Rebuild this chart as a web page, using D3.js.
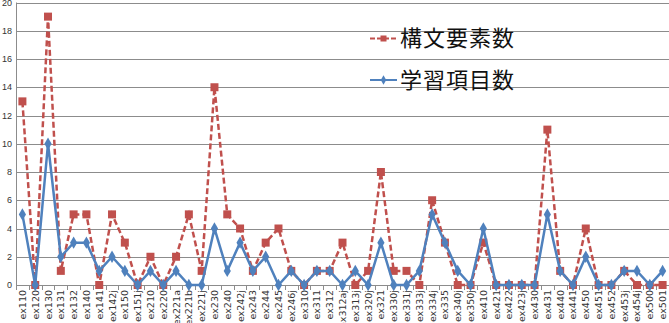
<!DOCTYPE html>
<html>
<head>
<meta charset="utf-8">
<script src="https://cdn.jsdelivr.net/npm/d3@7"></script>
<style>
  html, body { margin: 0; padding: 0; background: #fff; }
  svg { display: block; }
</style>
</head>
<body>
<svg id="chart" width="669" height="323"></svg>
<script>
var categories = ["ex110","ex120","ex130","ex131","ex132","ex140","ex141","ex142j","ex150","ex151j",
  "ex210","ex220","ex221a","ex221b","ex221j","ex230","ex240","ex242j","ex243","ex244","ex245","ex246j",
  "ex310","ex311","ex312","ex312aj","ex313j","ex320j","ex321","ex330j","ex331j","ex333j","ex334j","ex335",
  "ex340j","ex350j","ex410","ex421","ex422","ex423j","ex430","ex431","ex440","ex441","ex450","ex451",
  "ex452","ex453j","ex454j","ex500","ex501"];

// 構文要素数
var syntaxCounts = [13,0,19,1,5,5,0,5,3,0,
  2,0,2,5,1,14,5,4,1,3,4,1,
  0,1,1,3,0,1,8,1,1,0,6,3,
  0,0,3,0,0,0,0,11,1,0,4,0,
  0,1,0,0,0];

// 学習項目数
var itemCounts = [5,0,10,2,3,3,1,2,1,0,
  1,0,1,0,0,4,1,3,1,2,0,1,
  0,1,1,0,1,0,3,0,0,1,5,3,
  1,0,4,0,0,0,0,5,1,0,2,0,
  0,1,1,0,1];

var yTicks = [0,2,4,6,8,10,12,14,16,18,20];

(function() {
var svg = d3.select("#chart");
var plotLeft = 16, plotRight = 669, plotTop = 2.5, plotBottom = 285;

var x = d3.scaleBand().domain(categories).range([plotLeft, plotRight]).padding(0);
var y = d3.scaleLinear().domain([0, 20]).range([plotBottom, plotTop]);
var cx = function(d) { return x(d) + x.bandwidth() / 2; };

// gridlines
svg.append("g")
    .selectAll("line")
    .data(yTicks)
    .enter().append("line")
    .attr("x1", plotLeft).attr("x2", plotRight)
    .attr("y1", function(d) { return Math.round(y(d)) + 0.5; })
    .attr("y2", function(d) { return Math.round(y(d)) + 0.5; })
    .attr("stroke", "#8c8c8c")
    .attr("stroke-width", 1);

// y axis
svg.append("line")
    .attr("x1", plotLeft + 0.5).attr("x2", plotLeft + 0.5)
    .attr("y1", plotTop).attr("y2", plotBottom)
    .attr("stroke", "#8c8c8c");

svg.append("g")
    .attr("font-family", "Liberation Sans, Arial, sans-serif")
    .attr("font-size", 9)
    .attr("fill", "#333")
    .selectAll("text")
    .data(yTicks)
    .enter().append("text")
    .attr("x", 12)
    .attr("y", function(d) { return y(d) + 3; })
    .attr("text-anchor", "end")
    .text(function(d) { return d; });

// category tick marks between categories
svg.append("g")
    .selectAll("line")
    .data(categories.concat([null]))
    .enter().append("line")
    .attr("x1", function(d, i) { return Math.round(plotLeft + i * x.bandwidth()) + 0.5; })
    .attr("x2", function(d, i) { return Math.round(plotLeft + i * x.bandwidth()) + 0.5; })
    .attr("y1", plotBottom).attr("y2", plotBottom + 5)
    .attr("stroke", "#8c8c8c");

svg.append("g")
    .attr("font-family", "DejaVu Sans, sans-serif")
    .attr("font-size", 9.5)
    .attr("fill", "#333")
    .selectAll("text")
    .data(categories)
    .enter().append("text")
    .attr("transform", function(d) { return "translate(" + (cx(d) + 3.5) + "," + (plotBottom + 5) + ") rotate(-90)"; })
    .attr("text-anchor", "end")
    .text(function(d) { return d; });

var line = d3.line()
    .x(function(d, i) { return cx(categories[i]); })
    .y(function(d) { return y(d); });

var red = "#C0504D", blue = "#4F81BD";

// 構文要素数 series
svg.append("path")
    .datum(syntaxCounts)
    .attr("d", line)
    .attr("fill", "none")
    .attr("stroke", red)
    .attr("stroke-width", 2.5)
    .attr("stroke-dasharray", "6,3");

svg.append("g")
    .selectAll("rect")
    .data(syntaxCounts)
    .enter().append("rect")
    .attr("x", function(d, i) { return cx(categories[i]) - 4; })
    .attr("y", function(d) { return y(d) - 4; })
    .attr("width", 8).attr("height", 8)
    .attr("fill", red);

// 学習項目数 series
svg.append("path")
    .datum(itemCounts)
    .attr("d", line)
    .attr("fill", "none")
    .attr("stroke", blue)
    .attr("stroke-width", 2.5);

var diamond = d3.symbol().type(d3.symbolDiamond).size(45);
svg.append("g")
    .selectAll("path")
    .data(itemCounts)
    .enter().append("path")
    .attr("transform", function(d, i) { return "translate(" + cx(categories[i]) + "," + y(d) + ")"; })
    .attr("d", diamond)
    .attr("fill", blue);

// legend
var legend = svg.append("g")
    .attr("font-family", "Noto Sans CJK JP, sans-serif")
    .attr("font-size", 22)
    .attr("letter-spacing", 1)
    .attr("fill", "#111");

legend.append("line")
    .attr("x1", 370).attr("x2", 397).attr("y1", 38.5).attr("y2", 38.5)
    .attr("stroke", red).attr("stroke-width", 2).attr("stroke-dasharray", "5,2");
legend.append("rect")
    .attr("x", 380.5).attr("y", 35.5).attr("width", 6).attr("height", 6).attr("fill", red);
legend.append("text").attr("x", 400).attr("y", 46).text("構文要素数");

legend.append("line")
    .attr("x1", 370).attr("x2", 397).attr("y1", 80).attr("y2", 80)
    .attr("stroke", blue).attr("stroke-width", 2);
legend.append("path")
    .attr("transform", "translate(383.5,80)")
    .attr("d", d3.symbol().type(d3.symbolDiamond).size(25))
    .attr("fill", blue);
legend.append("text").attr("x", 400).attr("y", 88).text("学習項目数");
})();
</script>
</body>
</html>
